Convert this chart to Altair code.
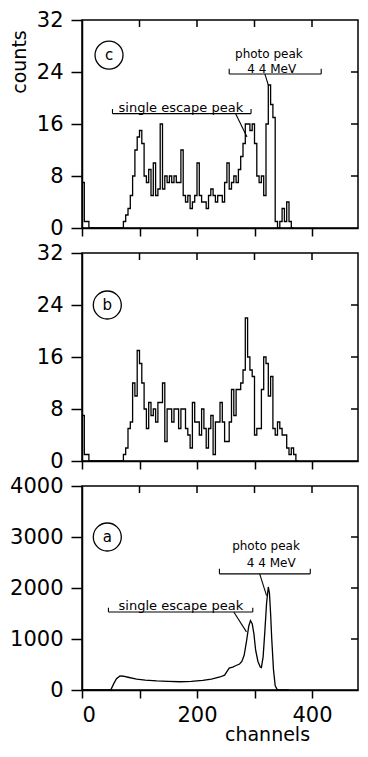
import altair as alt
import pandas as pd

FONT = "DejaVu Sans"
BIN = 4  # channels per histogram bin

# ---------------- data ----------------
# panel (c): counts per 4-channel bin, starting at channel 0
c_counts = [
    7, 1, 1, 0, 0, 0, 0, 0, 0, 0, 0, 0, 0, 0, 0, 0, 0, 0,
    1, 2, 3, 5, 8, 12, 14, 15, 13, 8,
    7, 9, 5, 10, 5, 6, 16, 6, 8, 7,
    8, 7, 8, 7, 7, 12, 5, 4, 5, 3,
    4, 5, 10, 5, 4, 4, 3, 5, 6, 5,
    4, 5, 5, 4, 7, 10, 6, 7, 8, 7,
    9, 11, 13, 16, 16, 15, 16, 13, 8, 7,
    8, 5, 16, 22, 19, 17, 1, 0, 1, 3,
    1, 4, 1, 0,
]
# panel (b)
b_counts = [
    7, 1, 1, 0, 0, 0, 0, 0, 0, 0, 0, 0, 0, 0, 0, 0, 0, 0,
    1, 2, 5, 6, 12, 10, 17, 15, 12, 8,
    5, 9, 7, 8, 6, 9, 9, 12, 3, 8,
    8, 6, 8, 8, 5, 8, 8, 5, 4, 2,
    9, 6, 6, 4, 8, 5, 2, 5, 7, 1,
    6, 6, 9, 6, 3, 3, 6, 11, 7, 11,
    11, 12, 14, 22, 16, 14, 13, 4, 5, 5,
    11, 16, 15, 10, 13, 5, 4, 6, 5, 4,
    4, 2, 1, 2, 1, 0,
]
# panel (a): smooth spectrum
a_ch = [0, 50, 55, 60, 66, 72, 80, 95, 110, 130, 150, 170, 190, 210, 225, 240,
        248, 252, 256, 262, 268, 274, 278, 282, 286, 290, 293, 296, 299, 302,
        306, 310, 312, 315, 318, 321, 324, 326, 328, 330, 333, 336, 340, 360]
a_counts = [0, 0, 120, 220, 275, 270, 250, 215, 195, 178, 168, 162, 168, 190, 215, 255,
            290, 360, 430, 450, 480, 510, 560, 680, 950, 1250, 1360, 1300, 1100, 780,
            560, 450, 440, 650, 1150, 1700, 2020, 1900, 1500, 1000, 400, 80, 0, 0]

x_ticks = [0, 100, 200, 300, 400]
y_ticks_small = [0, 8, 16, 24, 32]
y_ticks_a = [0, 1000, 2000, 3000, 4000]

# annotations (data units)
c_text = ["photo peak", "4 4 MeV", "single escape peak"]
c_text_fs = [12, 12, 13]
c_text_ch = [325, 330, 172]
c_text_n = [26.7, 24.5, 18.5]
c_seg_ch = [256, 256, 416, 318, 53, 53, 294, 267]
c_seg_n = [23.7, 23.7, 23.7, 23.7, 17.6, 17.6, 17.6, 17.6]
c_seg_ch2 = [416, 256, 416, 324, 294, 53, 294, 287]
c_seg_n2 = [23.7, 24.5, 24.5, 22.0, 17.6, 18.3, 18.3, 14.0]

a_text = ["photo peak", "4 4 MeV", "single escape peak"]
a_text_fs = [12, 12, 13]
a_text_ch = [320, 329, 172]
a_text_n = [2830, 2490, 1650]
a_seg_ch = [239, 239, 397, 309, 46, 46, 297, 264]
a_seg_n = [2277, 2277, 2277, 2277, 1528, 1528, 1528, 1528]
a_seg_ch2 = [397, 239, 397, 321, 297, 46, 297, 286]
a_seg_n2 = [2277, 2375, 2375, 1850, 1528, 1615, 1615, 1140]

circle_lbl = ["c", "b", "a"]
circle_ch = [47, 44, 44]
circle_n = [26.6, 24, 3000]

W = 276
XDOM = [0, 480]


def hist_df(counts):
    ch = [i * BIN for i in range(len(counts))] + [len(counts) * BIN]
    n = list(counts) + [counts[-1]]
    return pd.DataFrame({"ch": ch, "n": n})


def panel(df, interp, ymax, height, yticks, bottom, title_counts,
          texts=None, circle=0):
    xs = alt.Scale(domain=XDOM, nice=False, zero=False)
    ys = alt.Scale(domain=[0, ymax], nice=False)
    if bottom:
        xaxis = alt.Axis(values=x_ticks, tickSize=8, labelPadding=6,
                         labelExpr="datum.value % 200 == 0 ? datum.label : ''",
                         title="channels", titleFontSize=19, titleFont=FONT,
                         titleFontWeight="normal", titleX=185, titleY=44,
                         titleBaseline="middle", titleAlign="center")
    else:
        xaxis = alt.Axis(values=x_ticks, tickSize=8, labels=False, title=None)
    yaxis = alt.Axis(values=yticks, tickSize=11, labelPadding=8, format="d",
                     title=None)

    X = lambda: alt.X("ch:Q", scale=xs, axis=xaxis)
    Y = lambda: alt.Y("n:Q", scale=ys, axis=yaxis)

    line = alt.Chart(df).mark_line(color="black", strokeWidth=1.3,
                                   interpolate=interp).encode(x=X(), y=Y())
    top = alt.Chart(pd.DataFrame({"ch": x_ticks[1:]})).mark_rule(
        color="black", strokeWidth=1.5).encode(
        x=X(), y=alt.value(0), y2=alt.value(7))
    right = alt.Chart(pd.DataFrame({"n": yticks[1:-1]})).mark_rule(
        color="black", strokeWidth=1.5).encode(
        y=Y(), x=alt.value(W - 7), x2=alt.value(W))
    cdf = pd.DataFrame({"ch": [circle_ch[circle]], "n": [circle_n[circle]],
                        "t": [circle_lbl[circle]]})
    circ = alt.Chart(cdf).mark_point(shape="circle", size=784, filled=False,
                                     color="black", strokeWidth=1.3, opacity=1).encode(
        x=X(), y=Y())
    circ_t = alt.Chart(cdf).mark_text(font=FONT, fontSize=15, color="black").encode(
        x=X(), y=Y(), text="t:N")
    layers = [line, top, right, circ, circ_t]
    if title_counts:
        layers.append(alt.Chart(pd.DataFrame({"t": ["counts"]})).mark_text(
            font=FONT, fontSize=19, color="black", angle=270,
            align="center", baseline="middle").encode(
            x=alt.value(-62), y=alt.value(42), text="t:N"))
    if texts is not None:
        t, fs, tch, tn, sch, sn, sch2, sn2 = texts
        tdf = pd.DataFrame({"ch": tch, "n": tn, "t": t, "fs": fs})
        sdf = pd.DataFrame({"ch": sch, "n": sn, "ch2": sch2, "n2": sn2})
        layers.append(alt.Chart(tdf).mark_text(font=FONT, color="black").encode(
            x=X(), y=Y(), text="t:N",
            size=alt.Size("fs:Q", scale=None, legend=None)))
        layers.append(alt.Chart(sdf).mark_rule(color="black", strokeWidth=1.1).encode(
            x=X(), y=Y(), x2="ch2:Q", y2="n2:Q"))
    return alt.layer(*layers).properties(width=W, height=height)


pc = panel(hist_df(c_counts), "step-after", 32, 208, y_ticks_small, False, True,
           (c_text, c_text_fs, c_text_ch, c_text_n,
            c_seg_ch, c_seg_n, c_seg_ch2, c_seg_n2), 0)
pb = panel(hist_df(b_counts), "step-after", 32, 208, y_ticks_small, False, False, None, 1)
pa = panel(pd.DataFrame({"ch": a_ch, "n": a_counts}), "linear", 4000, 204, y_ticks_a,
           True, False,
           (a_text, a_text_fs, a_text_ch, a_text_n,
            a_seg_ch, a_seg_n, a_seg_ch2, a_seg_n2), 2)

chart = alt.vconcat(pc, pb, pa, spacing=25, bounds="flush").properties(
    padding={"left": 0, "top": 0, "right": 0, "bottom": 0}, background="white"
).configure_view(stroke="black", strokeWidth=1.5).configure_axis(
    domainColor="black", domainWidth=1.5, tickColor="black", tickWidth=1.5,
    labelFont=FONT, labelFontSize=21, labelColor="black", titleColor="black",
    grid=False,
)

chart.save("out.html", embed_options={"renderer": "svg", "actions": False})
